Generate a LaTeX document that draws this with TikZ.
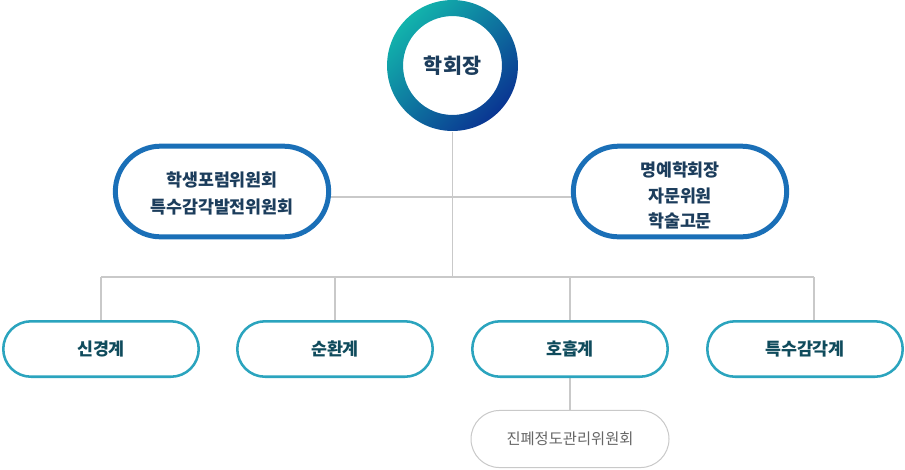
\documentclass[tikz,border=0pt]{standalone}
\usepackage{fontspec}
\newfontfamily\krfont{Noto Sans CJK KR}
\usetikzlibrary{backgrounds,positioning}

\definecolor{ringteal}{HTML}{12B3AC}
\definecolor{ringblue}{HTML}{0A78B4}
\definecolor{ringnavy}{HTML}{0A3592}
\definecolor{boxblue}{HTML}{1A6FB7}
\definecolor{boxteal}{HTML}{2BA4BE}
\definecolor{linegray}{HTML}{C9C9C9}
\definecolor{textnavy}{HTML}{1C3D5C}
\definecolor{textteal}{HTML}{0F4B5C}
\definecolor{textgray}{HTML}{666666}

\tikzset{every picture/.style={line width=0.75pt}}
\tikzset{
  link/.style={draw=linegray, line width=0.9pt},
  headnode/.style={circle, minimum size=98.25pt, inner sep=0pt, text=textnavy,
    font=\krfont\bfseries\fontsize{15.5pt}{18pt}\selectfont},
  bigbox/.style={draw=boxblue, line width=3.75pt, fill=white, rounded corners=34pt,
    minimum width=160pt, minimum height=68pt, inner sep=0pt, align=center, text=textnavy,
    font=\krfont\bfseries\fontsize{13pt}{19pt}\selectfont},
  sysbox/.style={draw=boxteal, line width=1.9pt, fill=white, rounded corners=20.8pt,
    minimum width=146.6pt, minimum height=41.6pt, inner sep=0pt, text=textteal,
    font=\krfont\bfseries\fontsize{13pt}{15pt}\selectfont},
  subbox/.style={draw=linegray, line width=0.75pt, fill=white, rounded corners=21.4pt,
    minimum width=148.5pt, minimum height=42.8pt, inner sep=0pt, text=textgray,
    font=\krfont\fontsize{11.5pt}{14pt}\selectfont}
}

\begin{document}
\begin{tikzpicture}[x=0.75pt, y=-0.75pt]
    \useasboundingbox (0,0) rectangle (905,469);

    % Chair ring
    \coordinate (ringc) at (452.5,65.5);
    \shade[even odd rule, top color=ringteal, middle color=ringblue, bottom color=ringnavy,
        shading angle=45] (ringc) circle (49.1pt) (ringc) circle (37.1pt);
    \node[headnode] (head) at (ringc) {학회장};

    % Advisory boxes
    \node[bigbox] (forum) at (222,191.5) {\rule{0pt}{14pt}학생포럼위원회\\[1pt]특수감각발전위원회};
    \node[bigbox] (honor) at (680,191.5) {\rule{0pt}{17pt}명예학회장\\자문위원\\학술고문};

    % Systems
    \node[sysbox] (nerve) at (101,349) {신경계};
    \node[sysbox] (circ)  at (335,349) {순환계};
    \node[sysbox] (resp)  at (570,349) {호흡계};
    \node[sysbox] (sense) at (805,349) {특수감각계};

    % Sub committee
    \node[subbox] (pneumo) at (570,439) {진폐정도관리위원회};

    % Connectors
    \coordinate (hub)  at (452.5,197);
    \coordinate (busW) at (101,277);
    \coordinate (busE) at (814,277);
    \begin{scope}[on background layer]
        \draw[link] (head.south) -- (head.south |- busW);
        \draw[link] (forum.east |- hub) -- (honor.west |- hub);
        \draw[link] (busW) -- (busE);
        \draw[link] (nerve.north |- busW) -- (nerve.north);
        \draw[link] (circ.north |- busW) -- (circ.north);
        \draw[link] (resp.north |- busW) -- (resp.north);
        \draw[link] (busE) -- (busE |- sense.north);
        \draw[link] (resp.south) -- (pneumo.north);
    \end{scope}
\end{tikzpicture}
\end{document}
